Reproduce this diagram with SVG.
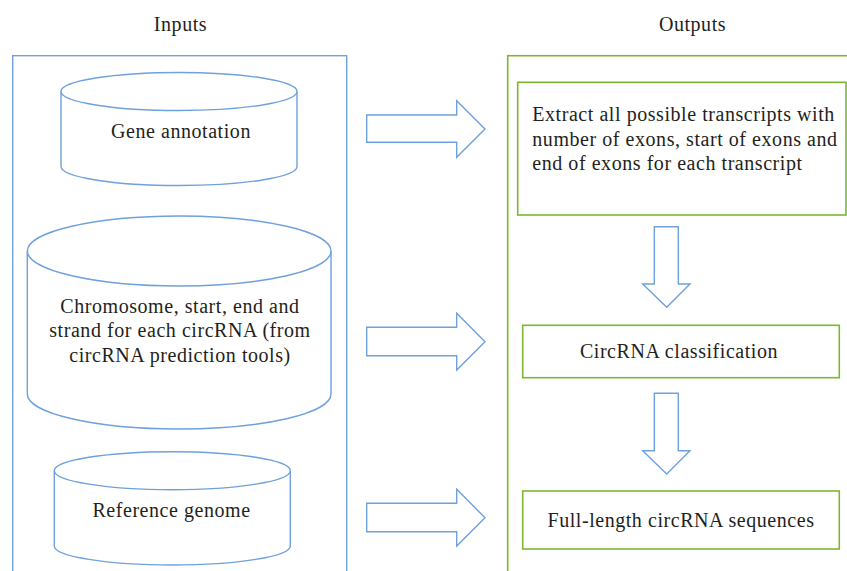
<svg xmlns="http://www.w3.org/2000/svg" width="847" height="571" viewBox="0 0 847 571">
<style>
text{font-family:"Liberation Serif","Times New Roman",serif;fill:#231f20;font-size:20px;letter-spacing:0.55px}
.c{text-anchor:middle}
.blue{fill:#fff;stroke:#6fa1dc;stroke-width:1.4}
.bluel{fill:none;stroke:#6fa1dc;stroke-width:1.4}
.green{fill:#fff;stroke:#7cb82f;stroke-width:1.6}
.greenl{fill:none;stroke:#7cb82f;stroke-width:1.6}
</style>
<rect width="847" height="571" fill="#fff"/>
<text class="c" x="180.5" y="31">Inputs</text>
<text class="c" x="692.5" y="31">Outputs</text>
<rect id="inputs-panel" class="bluel" x="12.7" y="55.7" width="334" height="530"/>
<rect id="outputs-panel" class="greenl" x="507.7" y="55.7" width="360" height="530"/>
<g id="gene-annotation">
<path class="blue" d="M61,91.5 V166.5 A118,19 0 0 0 297,166.5 V91.5"/>
<ellipse class="blue" cx="179" cy="91.5" rx="118" ry="19"/>
<text class="c" x="181" y="138">Gene annotation</text>
</g>
<g id="circrna-coords">
<path class="blue" d="M27.3,251 V394 A151.8,35 0 0 0 331,394 V251"/>
<ellipse class="blue" cx="179.2" cy="251" rx="151.8" ry="35"/>
<text class="c" x="180" y="312.7">Chromosome, start, end and</text>
<text class="c" x="180" y="337">strand for each circRNA (from</text>
<text class="c" x="180" y="361.7">circRNA prediction tools)</text>
</g>
<g id="reference-genome">
<path class="blue" d="M54.3,470.7 V546 A118,19 0 0 0 290.3,546 V470.7"/>
<ellipse class="blue" cx="172.3" cy="470.7" rx="118" ry="19"/>
<text class="c" x="171.5" y="516.7">Reference genome</text>
</g>
<g id="extract">
<rect class="green" x="517.7" y="82.3" width="328.3" height="132.7"/>
<text x="532.3" y="121">Extract all possible transcripts with</text>
<text x="532.3" y="146">number of exons, start of exons and</text>
<text x="532.3" y="170">end of exons for each transcript</text>
</g>
<g id="classification">
<rect class="green" x="522.7" y="325.3" width="316.6" height="52.4"/>
<text class="c" x="679" y="358.3">CircRNA classification</text>
</g>
<g id="full-length">
<rect class="green" x="522.7" y="491" width="316.6" height="58"/>
<text class="c" x="681" y="526.7">Full-length circRNA sequences</text>
</g>
<g id="connectors">
<polygon class="blue" points="366.7,115 456.7,115 456.7,100.7 485,129 456.7,157.3 456.7,142.3 366.7,142.3"/>
<polygon class="blue" points="366.7,327.3 456.7,327.3 456.7,313.3 485,341.7 456.7,370 456.7,355.7 366.7,355.7"/>
<polygon class="blue" points="366.7,503.3 456.7,503.3 456.7,489.3 485,517.7 456.7,546 456.7,531.7 366.7,531.7"/>
<polygon class="blue" points="654.3,226.7 678.3,226.7 678.3,284 690,284 666.7,307.3 642.7,284 654.3,284"/>
<polygon class="blue" points="654.3,393.3 678.3,393.3 678.3,450.7 690,450.7 666.7,474 642.7,450.7 654.3,450.7"/>
</g>
</svg>
